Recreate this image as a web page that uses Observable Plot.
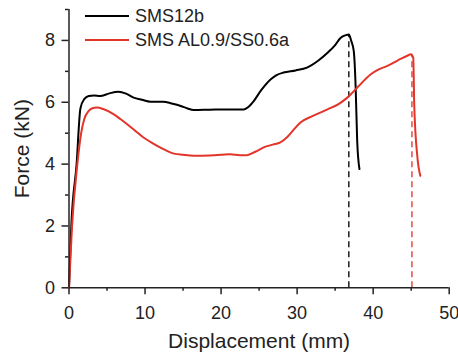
<!DOCTYPE html>
<html>
<head>
<meta charset="utf-8">
<script src="https://cdn.jsdelivr.net/npm/d3@7"></script>
<script src="https://cdn.jsdelivr.net/npm/@observablehq/plot@0.6"></script>
<style>
  html, body { margin: 0; padding: 0; background: #fff; }
  #wrap { position: relative; width: 458px; height: 361px; font-family: "Liberation Sans", Arial, sans-serif; }
  #legend { position: absolute; left: 85px; top: 4px; font-size: 18px; color: #222; }
  .item { display: flex; align-items: center; height: 24px; }
  .item svg { margin-right: 6px; }
</style>
</head>
<body>
<div id="wrap"></div>
<script>
const seriesNames = ["SMS12b", "SMS AL0.9/SS0.6a"];
const seriesColors = ["#000000", "#e3342a"];

const blackX = [0, 0.3, 1.0, 1.5, 2.0, 2.6, 3.3, 4.1, 5.2, 6.5, 7.5, 8.5, 9.6, 10.7, 12.4, 13.5, 14.7, 15.6, 16.4, 18.5, 21.2, 23.0, 23.6, 24.3, 25.3, 26.5, 27.3, 28.2, 29.8, 31.3, 32.8, 34.0, 35.0, 35.7, 36.4, 36.8, 37.1, 37.45, 37.7, 37.9, 38.2];
const blackY = [0, 2.0, 4.0, 5.8, 6.1, 6.2, 6.22, 6.2, 6.28, 6.34, 6.28, 6.15, 6.08, 6.02, 6.02, 5.96, 5.88, 5.8, 5.75, 5.76, 5.77, 5.77, 5.85, 6.04, 6.4, 6.74, 6.88, 6.96, 7.03, 7.12, 7.35, 7.6, 7.85, 8.08, 8.17, 8.19, 8.0, 7.65, 6.47, 4.75, 3.84];

const redX = [0, 0.4, 1.1, 1.6, 2.0, 2.6, 3.0, 3.7, 4.5, 5.9, 6.8, 7.65, 8.7, 9.8, 10.7, 11.6, 12.7, 13.8, 15.0, 16.4, 18.5, 20.0, 21.2, 22.5, 23.4, 24.5, 25.6, 26.8, 27.8, 28.6, 29.5, 30.4, 32.0, 34.0, 35.5, 36.6, 38.0, 39.65, 40.6, 41.8, 43.2, 44.7, 44.9, 45.27, 45.4, 45.8, 46.2];
const redY = [0, 2.0, 4.0, 5.0, 5.45, 5.72, 5.8, 5.83, 5.78, 5.61, 5.45, 5.29, 5.08, 4.86, 4.72, 4.59, 4.45, 4.34, 4.3, 4.27, 4.28, 4.3, 4.32, 4.29, 4.29, 4.4, 4.54, 4.63, 4.70, 4.85, 5.1, 5.34, 5.55, 5.77, 5.95, 6.15, 6.5, 6.9, 7.05, 7.17, 7.35, 7.53, 7.55, 7.44, 5.94, 4.27, 3.62];

const peakX = [36.8, 45.1];
const peakY = [8.19, 7.55];

const xMajor = [0, 10, 20, 30, 40, 50];
const xMinor = [5, 15, 25, 35, 45];
const yMajor = [0, 2, 4, 6, 8];
const yMinor = [1, 3, 5, 7, 9];

const black = blackX.map((x, i) => ({x, y: blackY[i]}));
const red = redX.map((x, i) => ({x, y: redY[i]}));
const peaks = peakX.map((x, i) => ({x, y: peakY[i], c: seriesColors[i]}));

const axisColor = "#222";
const chart = Plot.plot({
  width: 458,
  height: 361,
  marginLeft: 68.5,
  marginRight: 9.3,
  marginTop: 9,
  marginBottom: 73.7,
  style: {fontFamily: "'Liberation Sans', Arial, sans-serif", background: "#fff", color: axisColor},
  x: {domain: [0, 50]},
  y: {domain: [0, 9]},
  marks: [
    Plot.axisX(xMajor, {tickSize: 7, tickPadding: 11, fontSize: 18, strokeWidth: 1.5, label: "Displacement (mm)", labelArrow: "none", labelAnchor: "center", labelOffset: 60, tickFormat: d => d}),
    Plot.axisX(xMinor, {tickSize: 3.5, strokeWidth: 1.5, tickFormat: () => "", label: null}),
    Plot.axisY(yMajor, {tickSize: 7, tickPadding: 7, fontSize: 18, strokeWidth: 1.5, label: "Force (kN)", labelArrow: "none", labelAnchor: "center", labelOffset: 55, tickFormat: d => d}),
    Plot.axisY(yMinor, {tickSize: 3.5, strokeWidth: 1.5, tickFormat: () => "", label: null}),
    Plot.ruleX(peaks, {x: "x", y1: 0, y2: "y", stroke: "c", strokeWidth: 1.4, strokeDasharray: "6,4", strokeOpacity: 0.95}),
    Plot.line(black, {x: "x", y: "y", stroke: seriesColors[0], strokeWidth: 2, curve: "monotone-x"}),
    Plot.line(red, {x: "x", y: "y", stroke: seriesColors[1], strokeWidth: 2, curve: "monotone-x"}),
    Plot.ruleX([0], {stroke: axisColor, strokeWidth: 1.5}),
    Plot.ruleY([0], {stroke: axisColor, strokeWidth: 1.5})
  ]
});
const wrap = document.getElementById("wrap");
wrap.appendChild(chart);
chart.querySelectorAll("g[aria-label='x-axis label'] text, g[aria-label='y-axis label'] text").forEach(t => t.setAttribute("font-size", "21"));

// legend overlay
const legend = document.createElement("div");
legend.id = "legend";
seriesNames.forEach((name, i) => {
  const item = document.createElement("div");
  item.className = "item";
  item.innerHTML = `<svg width="44" height="4"><line x1="0" x2="44" y1="2" y2="2" stroke="${seriesColors[i]}" stroke-width="2"/></svg><span>${name}</span>`;
  legend.appendChild(item);
});
wrap.appendChild(legend);
</script>
</body>
</html>
